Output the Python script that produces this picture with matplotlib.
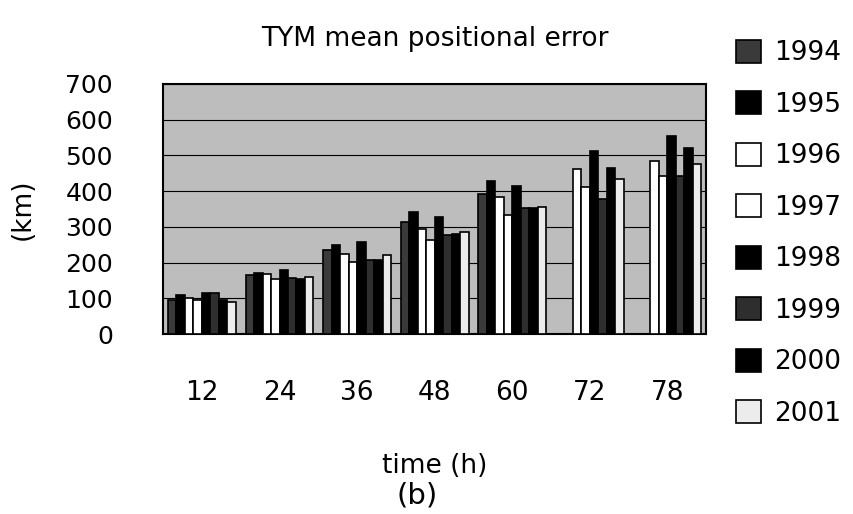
"""
plot.py

TYM mean positional error by forecast time, one bar per year (1994-2001).
"""
import numpy as np
import matplotlib
matplotlib.use('Agg')
import matplotlib.pyplot as plt


# === Data =====================================================================

times = ['12', '24', '36', '48', '60', '72', '78']
years = ['1994', '1995', '1996', '1997', '1998', '1999', '2000', '2001']

# Mean positional error (km); 1994 and 1995 have no 72 h / 78 h forecasts
err_1994 = [94, 164, 236, 314, 392, np.nan, np.nan]
err_1995 = [108, 171, 250, 342, 427, np.nan, np.nan]
err_1996 = [102, 167, 224, 295, 382, 461, 483]
err_1997 = [95, 155, 203, 263, 333, 411, 441]
err_1998 = [116, 178, 258, 328, 414, 513, 555]
err_1999 = [115, 157, 207, 278, 353, 377, 441]
err_2000 = [96, 154, 207, 281, 353, 464, 520]
err_2001 = [90, 159, 220, 286, 356, 434, 476]

all_err = [err_1994, err_1995, err_1996, err_1997,
           err_1998, err_1999, err_2000, err_2001]


# === Plot style ===============================================================

class PlotStyle:
    """
    Fill colours for each year, mimicking the scanned greyscale figure.
    """
    colors = ['#3a3a3a', '#000000', '#ffffff', '#ffffff',
              '#000000', '#2e2e2e', '#000000', '#ececec']


def plot_bars():
    plt.rcParams['font.family'] = ['DejaVu Sans']
    fig = plt.figure(figsize=(8.54, 5.14), dpi=100)
    ax = fig.add_axes([0.191, 0.350, 0.636, 0.487])
    ax.set_facecolor('#bdbdbd')

    x = np.arange(len(times))
    n = len(years)
    width = 0.875 / n
    for idx, vals in enumerate(all_err):
        offs = (idx - (n - 1) / 2) * width
        ax.bar(x + offs, vals, width, color=PlotStyle.colors[idx],
               edgecolor='black', linewidth=1.2, label=years[idx], zorder=3)

    ax.set_xlim(-0.5, len(times) - 0.5)
    ax.set_ylim(0, 700)
    ax.set_yticks(range(0, 701, 100))
    ax.set_xticks(x)
    ax.set_xticklabels(times)
    ax.yaxis.grid(True, color='black', linewidth=0.8, zorder=1)
    ax.tick_params(axis='y', length=0, labelsize=18, pad=36)
    ax.tick_params(axis='x', length=0, labelsize=19, pad=33)
    for sp in ax.spines.values():
        sp.set_linewidth(1.5)

    ax.set_title('TYM mean positional error', fontsize=19, pad=27)
    ax.set_ylabel('(km)', fontsize=19, labelpad=21)
    ax.set_xlabel('time (h)', fontsize=19, labelpad=34)
    fig.text(0.488, 0.008, '(b)', fontsize=21, ha='center', va='bottom')

    fig.legend(loc='upper left', bbox_to_anchor=(0.849, 0.943),
               fontsize=19, frameon=False, handlelength=0.95, handleheight=0.95,
               handletextpad=0.5, labelspacing=0.95, borderaxespad=0)

    fig.savefig('out.png', dpi=100)
    plt.close(fig)


plot_bars()
